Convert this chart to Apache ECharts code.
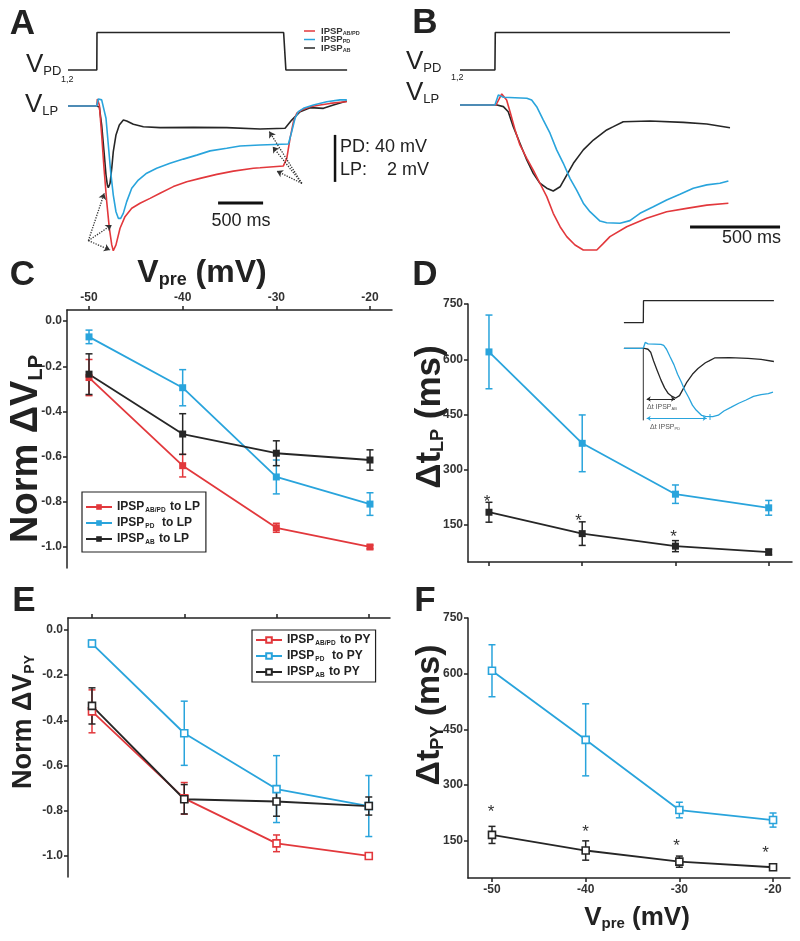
<!DOCTYPE html>
<html>
<head>
<meta charset="utf-8">
<title>IPSP figure</title>
<script src="https://cdn.jsdelivr.net/npm/echarts@6.0.0/dist/echarts.min.js"></script>
<style>
html,body{margin:0;padding:0;background:#fff;}
#chart{width:800px;height:941px;}
</style>
</head>
<body>
<div id="chart"></div>
<script>
// ================= DATA =================
const vpre = [-50, -40, -30, -20];
const normTicks = [0, -0.2, -0.4, -0.6, -0.8, -1.0];
const msTicks = [150, 300, 450, 600, 750];

// Panel C : Norm dV LP
const cRed = [-0.25, -0.64, -0.915, -1.0];
const cRedErr = [0.08, 0.05, 0.02, 0.008];
const cBlue = [-0.07, -0.295, -0.69, -0.81];
const cBlueErr = [0.03, 0.08, 0.075, 0.05];
const cBlack = [-0.235, -0.50, -0.585, -0.615];
const cBlackErr = [0.09, 0.09, 0.055, 0.045];

// Panel D : dt LP (ms)
const dBlue = [620, 372, 234, 197];
const dBlueErr = [100, 77, 25, 20];
const dBlack = [185, 127, 93, 77];
const dBlackErr = [27, 32, 15, 8];
const dStars = [[-50.2, 223], [-40.4, 172], [-30.2, 128]];

// Panel E : Norm dV PY
const eRed = [-0.36, -0.745, -0.944, -1.0];
const eRedErr = [0.095, 0.07, 0.037, 0.005];
const eBlue = [-0.06, -0.457, -0.704, -0.779];
const eBlueErr = [0.015, 0.142, 0.148, 0.135];
const eBlack = [-0.336, -0.749, -0.759, -0.779];
const eBlackErr = [0.08, 0.065, 0.065, 0.04];

// Panel F : dt PY (ms)
const fBlue = [608, 422, 233, 206];
const fBlueErr = [70, 97, 21, 19];
const fBlack = [166, 124, 94, 79];
const fBlackErr = [23, 26, 15, 5];
const fStars = [[-50.1, 237], [-40, 183], [-30.3, 147], [-20.8, 126]];

const namesLP = ['IPSP_AB/PD to LP', 'IPSP_PD  to LP', 'IPSP_AB to LP'];
const namesPY = ['IPSP_AB/PD to PY', 'IPSP_PD  to PY', 'IPSP_AB to PY'];

// Panel A traces: [time ms, mV]
const aStep = [[0,0],[320,0],[322,32],[2395,32],[2420,0],[3100,0]];
const aRed = [[0,0],[320,0],[326,0.3],[348,0.04],[374,-1.23],[400,-2.65],[430,-4.07],[459,-5.2],[486,-5.91],[503,-6.16],[533,-5.91],[578,-5.2],[633,-4.71],[708,-4.35],[800,-4.14],[911,-3.93],[1022,-3.71],[1170,-3.43],[1319,-3.22],[1467,-3.08],[1652,-2.91],[1837,-2.77],[2059,-2.65],[2133,-2.63],[2392,-2.55],[2430,-2.23],[2467,-1.37],[2504,-0.67],[2541,-0.31],[2596,-0.17],[2689,-0.03],[2800,0.04],[2911,0.11],[3022,0.16],[3097,0.18]];
const aBlue = [[0,0],[319,0],[337,0.3],[374,0.26],[392,0.21],[422,-0.52],[448,-1.66],[474,-2.8],[503,-3.79],[533,-4.5],[559,-4.78],[585,-4.78],[614,-4.57],[652,-4.07],[708,-3.5],[781,-3.15],[874,-2.86],[985,-2.65],[1133,-2.44],[1281,-2.26],[1430,-2.09],[1578,-1.91],[1763,-1.8],[1911,-1.7],[2133,-1.66],[2448,-1.62],[2485,-1.09],[2522,-0.52],[2559,-0.24],[2615,-0.1],[2726,0.04],[2874,0.18],[3022,0.26],[3097,0.26]];
const aBlack = [[0,0],[319,0],[348,-0.04],[374,-0.81],[400,-1.94],[422,-2.94],[437,-3.36],[448,-3.48],[467,-3.29],[486,-2.65],[503,-1.94],[533,-1.23],[570,-0.81],[615,-0.6],[652,-0.64],[726,-0.78],[837,-0.88],[1022,-0.92],[1393,-0.91],[1763,-0.92],[2133,-0.98],[2411,-0.95],[2485,-0.6],[2578,-0.24],[2689,-0.07],[2837,-0.1],[2948,0.04],[3097,0.21]];
const aArrows = [[[226,-5.73],[403,-3.71]],[[226,-5.73],[486,-5.06]],[[226,-5.73],[467,-6.13]],
                 [[2597,-3.29],[2236,-1.09]],[[2597,-3.29],[2274,-1.73]],[[2597,-3.29],[2319,-2.77]]];
const aBarTime = [[1667,-4.13],[2167,-4.13]];   // 500 ms
const aBarVolt = [[2966,-1.23],[2966,-3.23]];   // 2 mV (LP) / 40 mV (PD)

// Panel B traces
const bStep = [[0,0],[194,0],[196,32],[1500,32]];
const bRed = [[0,0],[200,0],[232,0.47],[259,0.21],[278,-0.29],[306,-1.06],[333,-1.7],[371,-2.27],[407,-2.77],[444,-3.33],[482,-3.9],[518,-4.61],[556,-5.18],[593,-5.6],[639,-5.96],[685,-6.17],[760,-6.17],[794,-5.91],[833,-5.6],[926,-5.18],[1037,-4.82],[1148,-4.54],[1259,-4.4],[1371,-4.26],[1491,-4.18]];
const bBlue = [[0,0],[194,0],[213,0.43],[241,0.33],[371,0.29],[398,0.21],[426,-0.07],[463,-0.64],[500,-1.2],[537,-1.91],[574,-2.48],[611,-3.12],[648,-3.62],[685,-4.18],[722,-4.54],[778,-4.94],[815,-5.01],[889,-5.03],[944,-4.92],[1000,-4.61],[1074,-4.33],[1148,-4.04],[1222,-3.8],[1296,-3.54],[1371,-3.4],[1444,-3.33],[1491,-3.23]];
const bBlack = [[0,0],[206,0],[241,-0.07],[268,-0.29],[296,-0.92],[333,-1.63],[371,-2.34],[407,-2.91],[444,-3.33],[482,-3.54],[518,-3.66],[556,-3.48],[593,-2.98],[630,-2.48],[685,-1.91],[741,-1.49],[815,-1.06],[852,-0.92],[907,-0.71],[1056,-0.68],[1241,-0.74],[1371,-0.81],[1500,-0.97]];
const bDelay = [[204,0.72],[407,0.72]];
const bBarTime = [[1278,-5.19],[1778,-5.19]];

// Inset (D)
const inStim = [[194,0],[194,-5.3]];
const inDtAB = [[228,-3.73],[511,-3.73]];
const inDtPD = [[228,-5.15],[828,-5.15]];
const inTickPD = [[861,-4.83],[861,-5.27]];

// ================= STYLE =================
const FONT = '"Liberation Sans", Arial, Helvetica, sans-serif';
const RED = '#e2383c', BLUE = '#29a4dc', BLACK = '#262626', AX = '#222';

// grids: A-PD, A-LP, B-PD, B-LP, C, D, E, F, inset-PD, inset-LP
const grids = [
  [68, 28.9, 280, 47], [68, 94.25, 280, 164.5],
  [460, 28.9, 324, 47], [460, 93.25, 324, 164.5],
  [67, 310, 325, 258], [468, 304, 324, 258],
  [68, 618, 322, 259], [468, 618, 322, 260],
  [623.9, 298.6, 150, 27.5], [623.9, 341.5, 150, 95.2]
];

function hid(gi, min, max) { return {type:'value', gridIndex:gi, min, max, show:false}; }
function lab() { return {fontSize:12, fontWeight:'bold', fontFamily:FONT, color:'#333'}; }
function xAx(gi, min, max, pos, showLab) {
  return {type:'value', gridIndex:gi, min, max, position:pos,
    axisLine:{show:true, onZero:false, lineStyle:{color:AX, width:1.5}},
    axisTick:{show:true, inside:false, length:4, customValues:vpre, lineStyle:{color:AX, width:1.5}},
    axisLabel:Object.assign({show:showLab, margin:6, customValues:vpre}, lab()),
    splitLine:{show:false}};
}
function yAx(gi, min, max, ticks, fmt) {
  return {type:'value', gridIndex:gi, min, max, position:'left',
    axisLine:{show:true, onZero:false, lineStyle:{color:AX, width:1.5}},
    axisTick:{show:true, inside:false, length:4, customValues:ticks, lineStyle:{color:AX, width:1.5}},
    axisLabel:Object.assign({show:true, margin:5, customValues:ticks, formatter:fmt}, lab()),
    splitLine:{show:false}};
}
const fmtNorm = v => (Math.abs(v) < 1e-9 ? 0 : v).toFixed(1);
const fmtMs = v => String(Math.round(v));

const xAxis = [
  hid(0,0,3110), hid(1,0,3110), hid(2,0,1800), hid(3,0,1800),
  xAx(4,-52.35,-17.65,'top',true), xAx(5,-52.25,-17.5,'bottom',false),
  xAx(6,-52.6,-17.7,'top',false), xAx(7,-52.56,-18.19,'bottom',true),
  hid(8,0,1500), hid(9,0,1500)
];
const yAxis = [
  hid(0,-5,35), hid(1,-6.5,0.5), hid(2,-5,35), hid(3,-6.5,0.5),
  yAx(4,-1.093,0.049,normTicks,fmtNorm), yAx(5,50,750,msTicks,fmtMs),
  yAx(6,-1.093,0.053,normTicks,fmtNorm), yAx(7,50,750,msTicks,fmtMs),
  hid(8,-5,35), hid(9,-6.5,0.5)
];

const series = [];
function trace(gi, data, color, w) {
  return {type:'line', xAxisIndex:gi, yAxisIndex:gi, data, symbol:'none', silent:true,
    lineStyle:{color, width:w||1.6}, itemStyle:{color}, emphasis:{disabled:true}};
}
function arrows(gi, pairs, color, w, sym, type, size) {
  return {type:'line', xAxisIndex:gi, yAxisIndex:gi, data:[pairs[0][0]], symbol:'none', silent:true,
    lineStyle:{width:0},
    markLine:{silent:true, symbol:sym, symbolSize:size, animation:false,
      lineStyle:{type:type, color, width:w}, label:{show:false}, emphasis:{disabled:true},
      data: pairs.map(p => [{coord:p[0]}, {coord:p[1]}])}};
}
function errS(gi, vals, errs, color) {
  return {type:'custom', xAxisIndex:gi, yAxisIndex:gi, silent:true,
    data: vpre.map((x,i) => [x, vals[i]-errs[i], vals[i]+errs[i]]),
    encode:{x:0, y:[1,2]},
    renderItem:(p, api) => {
      const x = api.value(0);
      const a = api.coord([x, api.value(2)]), b = api.coord([x, api.value(1)]);
      const st = {stroke:color, lineWidth:1.5};
      const w = 3.5;
      return {type:'group', children:[
        {type:'line', shape:{x1:a[0],y1:a[1],x2:b[0],y2:b[1]}, style:st},
        {type:'line', shape:{x1:a[0]-w,y1:a[1],x2:a[0]+w,y2:a[1]}, style:st},
        {type:'line', shape:{x1:b[0]-w,y1:b[1],x2:b[0]+w,y2:b[1]}, style:st}]};
    }};
}
function lineS(gi, name, vals, color, open) {
  return {type:'line', name, xAxisIndex:gi, yAxisIndex:gi,
    data: vpre.map((x,i) => [x, vals[i]]),
    symbol:'rect', symbolSize:7, showSymbol:true, silent:true,
    lineStyle:{color, width:1.8},
    itemStyle: open ? {color:'#fff', borderColor:color, borderWidth:1.6} : {color, borderColor:color, borderWidth:0},
    emphasis:{disabled:true}};
}
function stars(gi, pts) {
  return {type:'custom', xAxisIndex:gi, yAxisIndex:gi, silent:true, data:pts, encode:{x:0,y:1},
    renderItem:(p, api) => {
      const c = api.coord([api.value(0), api.value(1)]);
      return {type:'text', x:c[0], y:c[1]+4, style:{text:'*', fontSize:17, fontFamily:FONT, fill:'#333',
        align:'center', verticalAlign:'middle', textAlign:'center', textVerticalAlign:'middle'}};
    }};
}

// ---- A ----
series.push(trace(0, aStep, BLACK, 1.6));
series.push(trace(1, aBlack, BLACK));
series.push(trace(1, aRed, RED));
series.push(trace(1, aBlue, BLUE));
series.push(trace(1, aBarTime, '#111', 3));
series.push(trace(1, aBarVolt, '#111', 2.5));
series.push(arrows(1, aArrows, '#333', 1.3, ['none','arrow'], 'dotted', 6));
// ---- B ----
series.push(trace(2, bStep, BLACK, 1.6));
series.push(trace(3, bBlack, BLACK));
series.push(trace(3, bRed, RED));
series.push(trace(3, bBlue, BLUE));
series.push(trace(3, bBarTime, '#111', 3));
series.push(arrows(3, [bDelay], '#222', 1.5, ['arrow','arrow'], 'solid', 6));
// ---- C ----
series.push(errS(4, cRed, cRedErr, RED));   series.push(lineS(4, namesLP[0], cRed, RED, false));
series.push(errS(4, cBlue, cBlueErr, BLUE)); series.push(lineS(4, namesLP[1], cBlue, BLUE, false));
series.push(errS(4, cBlack, cBlackErr, BLACK)); series.push(lineS(4, namesLP[2], cBlack, BLACK, false));
// ---- D ----
series.push(errS(5, dBlue, dBlueErr, BLUE)); series.push(lineS(5, 'dt PD LP', dBlue, BLUE, false));
series.push(errS(5, dBlack, dBlackErr, BLACK)); series.push(lineS(5, 'dt AB LP', dBlack, BLACK, false));
series.push(stars(5, dStars));
// ---- E ----
series.push(errS(6, eRed, eRedErr, RED));   series.push(lineS(6, namesPY[0], eRed, RED, true));
series.push(errS(6, eBlue, eBlueErr, BLUE)); series.push(lineS(6, namesPY[1], eBlue, BLUE, true));
series.push(errS(6, eBlack, eBlackErr, BLACK)); series.push(lineS(6, namesPY[2], eBlack, BLACK, true));
// ---- F ----
series.push(errS(7, fBlue, fBlueErr, BLUE)); series.push(lineS(7, 'dt PD PY', fBlue, BLUE, true));
series.push(errS(7, fBlack, fBlackErr, BLACK)); series.push(lineS(7, 'dt AB PY', fBlack, BLACK, true));
series.push(stars(7, fStars));
// ---- inset ----
series.push(trace(8, bStep, BLACK, 1.3));
series.push(trace(9, bBlack, BLACK, 1.3));
series.push(trace(9, bBlue, BLUE, 1.3));
series.push(trace(9, inStim, '#333', 1));
series.push(trace(9, inTickPD, BLUE, 1));
series.push(arrows(9, [inDtAB], BLACK, 1, ['arrow','arrow'], 'solid', 4));
series.push(arrows(9, [inDtPD], BLUE, 1, ['arrow','arrow'], 'solid', 4));

// ---- legends ----
function richName(n) {
  const m = n.match(/^IPSP_(\S+)(.*)$/);
  return '{b|IPSP}{s|' + m[1] + '}{b|' + m[2] + '}';
}
const legRich = {
  b:{fontSize:12, fontWeight:'bold', fontFamily:FONT, color:'#222', lineHeight:15},
  s:{fontSize:6.5, fontWeight:'bold', fontFamily:FONT, color:'#222', lineHeight:8, padding:[7,1,0,1]}
};
function legend(names, left, top, pad, gap) {
  return {show:true, data:names, orient:'vertical', left, top, itemWidth:26, itemHeight:7, itemGap:gap,
    padding:pad, borderColor:'#222', borderWidth:1.2, backgroundColor:'#fff', selectedMode:false,
    formatter:richName, textStyle:{rich:legRich}};
}

// ---- graphic text ----
const G = [];
function txt(x, y, text, size, weight, align, rich, extra) {
  const o = {type:'text', x, y, silent:true, style:{text, fontSize:size, fontWeight:weight||'normal',
    fontFamily:FONT, fill:'#222', align:align||'left', verticalAlign:'middle',
    textAlign:align||'left', textVerticalAlign:'middle'}};
  if (rich) o.style.rich = rich;
  return Object.assign(o, extra || {});
}
function rt(big, small, weight, color) {
  return {
    v:{fontSize:big, fontWeight:weight, fontFamily:FONT, fill:color||'#222', color:color||'#222'},
    s:{fontSize:small, fontWeight:weight, fontFamily:FONT, fill:color||'#222', color:color||'#222', verticalAlign:'bottom'}
  };
}
// panel letters
[['A',22.5,24],['B',425,23],['C',22.5,275.5],['D',425,275],['E',24,601.5],['F',425,601.5]].forEach(l =>
  G.push(txt(l[1], l[2], l[0], 35, 'bold', 'center')));
// V labels
G.push(txt(26, 65, '{v|V}{s|PD}', 26, 'normal', 'left', rt(26, 13, 'normal')));
G.push(txt(61, 80, '1,2', 9, 'normal', 'left'));
G.push(txt(25, 105, '{v|V}{s|LP}', 26, 'normal', 'left', rt(26, 13, 'normal')));
G.push(txt(406, 62, '{v|V}{s|PD}', 26, 'normal', 'left', rt(26, 13, 'normal')));
G.push(txt(451, 78, '1,2', 9, 'normal', 'left'));
G.push(txt(406, 93, '{v|V}{s|LP}', 26, 'normal', 'left', rt(26, 13, 'normal')));
// scale bar labels
G.push(txt(241, 221, '500 ms', 18, 'normal', 'center'));
G.push(txt(340, 147, 'PD: 40 mV', 18, 'normal', 'left'));
G.push(txt(340, 170, 'LP:    2 mV', 18, 'normal', 'left'));
G.push(txt(781, 238, '500 ms', 18, 'normal', 'right'));
// legend A
[[RED,'AB/PD',31],[BLUE,'PD',39.5],[BLACK,'AB',48]].forEach(r => {
  G.push({type:'line', silent:true, shape:{x1:304,y1:r[2],x2:315,y2:r[2]}, style:{stroke:r[0], lineWidth:1.5}});
  G.push(txt(321, r[2], '{v|IPSP}{s|' + r[1] + '}', 9.5, 'bold', 'left', rt(9.5, 5.5, 'bold', '#333')));
});
// axis titles
G.push(txt(27, 449, '{v|Norm ΔV}{s|LP}', 38, 'bold', 'center', rt(38, 20, 'bold'), {rotation:Math.PI/2}));
G.push(txt(430, 417, '{v|Δt}{s|LP}{v| (ms)}', 35, 'bold', 'center', rt(35, 18, 'bold'), {rotation:Math.PI/2}));
G.push(txt(24, 722, '{v|Norm ΔV}{s|PY}', 27, 'bold', 'center', rt(27, 14, 'bold'), {rotation:Math.PI/2}));
G.push(txt(430, 715, '{v|Δt}{s|PY}{v| (ms)}', 34, 'bold', 'center', rt(34, 18, 'bold'), {rotation:Math.PI/2}));
G.push(txt(202, 273, '{v|V}{s|pre}{v| (mV)}', 32, 'bold', 'center', rt(32, 18, 'bold')));
G.push(txt(637, 918, '{v|V}{s|pre}{v| (mV)}', 26, 'bold', 'center', rt(26, 15, 'bold')));
// inset labels
G.push(txt(647, 407, '{v|Δt IPSP}{s|AB}', 7, 'normal', 'left', rt(7, 4, 'normal', '#555')));
G.push(txt(650, 427, '{v|Δt IPSP}{s|PD}', 7, 'normal', 'left', rt(7, 4, 'normal', '#555')));

const option = {
  animation:false,
  backgroundColor:'#fff',
  textStyle:{fontFamily:FONT},
  grid: grids.map(g => ({left:g[0], top:g[1], width:g[2], height:g[3], containLabel:false, outerBoundsMode:'none'})),
  xAxis, yAxis, series,
  legend:[legend(namesLP, 82, 492, [8,6,6,3], 2), legend(namesPY, 252, 630, [3,5,3,3], 2)],
  graphic:G
};
const chart = echarts.init(document.getElementById('chart'), null, {renderer:'canvas'});
chart.setOption(option);
</script>
</body>
</html>
